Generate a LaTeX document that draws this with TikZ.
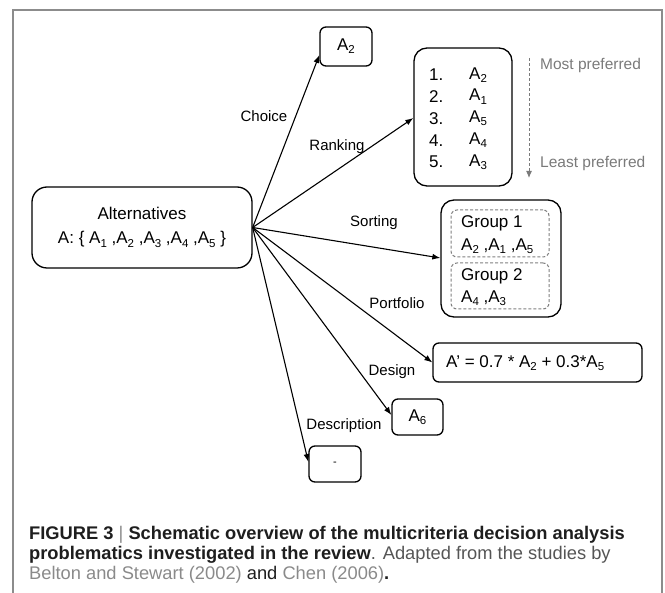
\documentclass[tikz,border=0pt]{standalone}
\usepackage{fontspec}
\setmainfont{Liberation Sans}
\usetikzlibrary{arrows.meta}
\definecolor{framegray}{HTML}{8C8C8C}
\definecolor{capdark}{HTML}{1E1E1E}
\definecolor{capmid}{HTML}{555555}
\definecolor{caplight}{HTML}{8A8A8A}
\definecolor{prefgray}{HTML}{7A7A7A}
\newcommand\subx[1]{\raisebox{-0.35ex}{\fontsize{11.5}{12}\selectfont #1}}
\tikzset{
  box/.style={draw=black, line width=1.3pt, rounded corners=6pt, inner sep=0pt},
  arr/.style={line width=1.1pt, -{Latex[length=8pt,width=6pt]}},
  lbl/.style={font=\fontsize{15}{17}\selectfont, inner sep=0pt},
  grp/.style={draw=gray, dash pattern=on 3pt off 2pt, line width=1pt, rounded corners=6pt, inner sep=0pt},
  pref/.style={font=\fontsize{15.5}{18}\selectfont, text=prefgray, inner sep=0pt, anchor=west},
  txt/.style={inner sep=0pt, anchor=west, font=\fontsize{17}{20}\selectfont},
  captxt/.style={anchor=west, inner sep=0pt, font=\fontsize{18.3}{20}\selectfont}
}
\begin{document}
\begin{tikzpicture}[x=1pt,y=-1pt]
\useasboundingbox (0,0) rectangle (665,593);
% frame
\draw[framegray, line width=1.5pt] (13,593) -- (13,10) -- (662,10) -- (662,593);
% main box
\node[box, rounded corners=15pt, minimum width=220pt, minimum height=81pt, align=center,
  font=\fontsize{17}{24}\selectfont] (alt) at (142,227.5)
  {Alternatives\\A: \{ A\subx{1} ,A\subx{2} ,A\subx{3} ,A\subx{4} ,A\subx{5} \}};
% choice
\node[box, minimum width=52pt, minimum height=39pt, font=\fontsize{17}{20}\selectfont] (choice) at (346,46.5) {A\subx{2}};
% ranking
\node[box, rounded corners=13pt, minimum width=98pt, minimum height=138pt] (rank) at (463,117) {};
\foreach \i/\a [count=\k] in {1/2,2/1,3/5,4/4,5/3}{
  \node[txt] (rn\k) at (429,{53+21.8*\k}) {\i.};
  \node[txt] (ra\k) at (469,{53+21.8*\k}) {A\subx{\a}};
}
\coordinate (pt) at (529,58);
\coordinate (pb) at (529,178);
\draw[prefgray, dash pattern=on 3pt off 2pt, line width=1pt, -{Latex[length=7pt,width=6pt]}] (pt) -- (pb);
\node[pref] (most) at (540,65) {Most preferred};
\node[pref] (least) at (540,163) {Least preferred};
% sorting
\node[box, rounded corners=13pt, minimum width=120pt, minimum height=117pt] (sort) at (501,258.5) {};
\node[grp, minimum width=98pt, minimum height=47pt] (g1) at (500,233.5) {};
\node[grp, minimum width=98pt, minimum height=46pt] (g2) at (500,286) {};
\node[txt] (g1a) at (461,223) {Group 1};
\node[txt] (g1b) at (461,246) {A\subx{2} ,A\subx{1} ,A\subx{5}};
\node[txt] (g2a) at (461,276) {Group 2};
\node[txt] (g2b) at (461,298) {A\subx{4} ,A\subx{3}};
% portfolio
\node[box, minimum width=209pt, minimum height=39pt] (port) at (537.5,362.5) {};
\node[txt] (porttxt) at (446,363) {A' = 0.7 * A\subx{2} + 0.3*A\subx{5}};
% design
\node[box, minimum width=51pt, minimum height=36pt, font=\fontsize{17}{20}\selectfont] (design) at (417.5,417) {A\subx{6}};
% description
\node[box, minimum width=52pt, minimum height=36pt, font=\fontsize{11}{12}\selectfont] (desc) at (335,464) {-};
% arrows
\draw[arr] (alt.east) -- (choice.west |- 0,55);
\draw[arr] (alt.east) -- (rank.west |- 0,118);
\draw[arr] (alt.east) -- (sort.west |- 0,258);
\draw[arr] (alt.east) -- (port.west);
\draw[arr] (alt.east) -- (design.west |- 0,415);
\draw[arr] (alt.east) -- (desc.west |- 0,462);
% labels
\node[lbl] (lchoice) at (264,116) {Choice};
\node[lbl] (lrank) at (337,147) {Ranking};
\node[lbl] (lsort) at (374,223) {Sorting};
\node[lbl] (lport) at (397,303) {Portfolio};
\node[lbl] (ldesign) at (392,372) {Design};
\node[lbl] (ldesc) at (344,426) {Description};
% caption
\node[captxt] (cap1) at (29,535) {\color{capdark}\textbf{FIGURE 3} {\color{caplight}|} \textbf{Schematic overview of the multicriteria decision analysis}};
\node[captxt] (cap2) at (29,555) {\color{capdark}\textbf{problematics investigated in the review}{\color{capmid}. Adapted from the studies by}};
\node[captxt] (cap3) at (29,575) {{\color{caplight}Belton and Stewart (2002)} {\color{capdark}and} {\color{caplight}Chen (2006)}{\color{capdark}\textbf{.}}};
\end{tikzpicture}
\end{document}
